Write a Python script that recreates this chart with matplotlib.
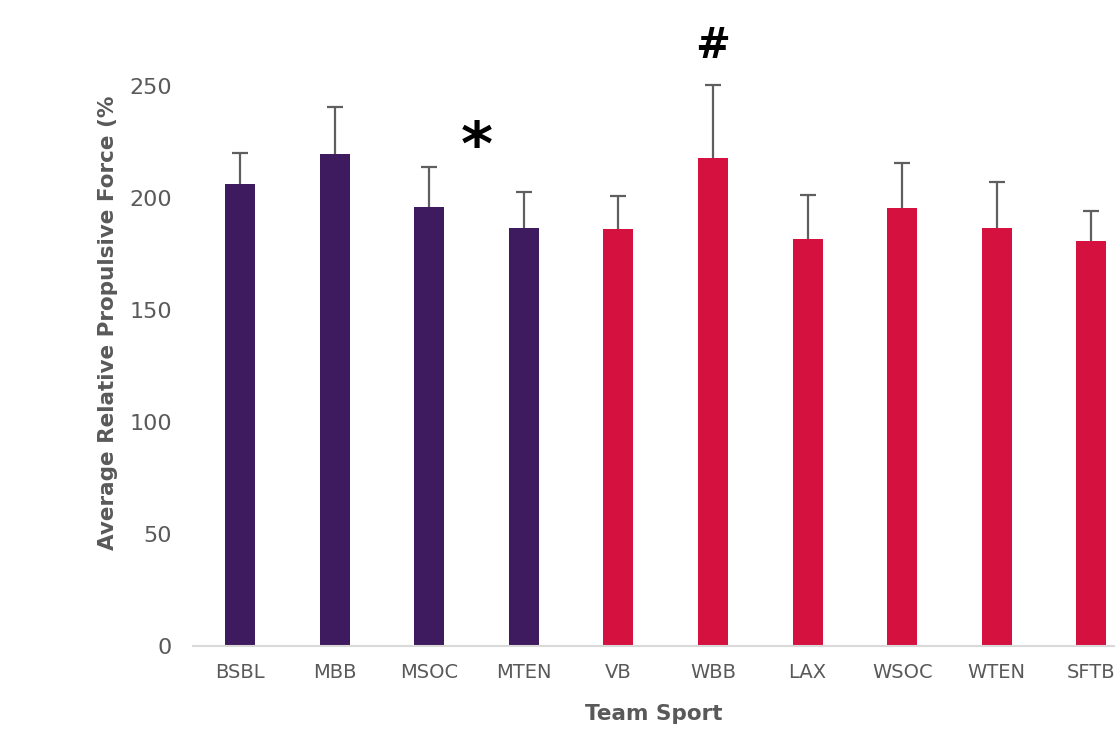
import matplotlib
matplotlib.use("Agg")
import matplotlib.pyplot as plt
import numpy as np

categories = ["BSBL", "MBB", "MSOC", "MTEN", "VB", "WBB", "LAX", "WSOC", "WTEN", "SFTB"]
means = [206.3, 219.5, 196.0, 186.6, 186.2, 217.9, 181.7, 195.5, 186.6, 180.8]
upper_err = [13.8, 21.1, 17.8, 16.1, 14.8, 32.7, 19.6, 20.3, 20.5, 13.5]
colors = ["#3E1A5E"] * 4 + ["#D51140"] * 6
annotations = [(2.5, 222.0, "*", 44), (5.0, 268.0, "#", 30)]

fig = plt.figure(figsize=(11.15, 7.47), dpi=100)
ax = fig.add_axes([192.7 / 1115, (747 - 646) / 747, (1115 - 192.7) / 1115, 627 / 747])

x = np.arange(len(categories))
yerr = np.vstack([np.zeros(len(means)), upper_err])
ax.bar(x, means, width=0.317, color=colors, zorder=2)
eb = ax.errorbar(x, means, yerr=yerr, fmt="none", ecolor="#5F5F5F", elinewidth=1.6,
                 capsize=6, capthick=1.6, zorder=3)
eb[1][0].set_visible(False)

ax.set_xlim(-0.5, 9.25)
ax.set_ylim(0, 280)
ax.set_yticks([0, 50, 100, 150, 200, 250])
ax.set_xticks(x)

ax.set_xticklabels(categories, fontsize=14, color="#595959")
for lab in ax.get_yticklabels():
    lab.set_fontsize(16)
    lab.set_color("#595959")

ax.tick_params(axis="y", length=0, pad=15)
ax.tick_params(axis="x", length=0, pad=12)

for s in ["top", "right", "left"]:
    ax.spines[s].set_visible(False)
ax.spines["bottom"].set_color("#D9D9D9")
ax.spines["bottom"].set_linewidth(1.5)

ax.set_ylabel("Average Relative Propulsive Force (%", fontsize=15.5, fontweight="bold",
              color="#595959")
ax.yaxis.set_label_coords(-0.081, 0.515)
ax.set_xlabel("Team Sport", fontsize=15.5, fontweight="bold", color="#595959", labelpad=16)

for ax_x, ax_y, txt, fs in annotations:
    ax.text(ax_x, ax_y, txt, ha="center", va="center", fontsize=fs,
            fontweight="bold", color="black", clip_on=False)

fig.savefig("out.png", dpi=100)
